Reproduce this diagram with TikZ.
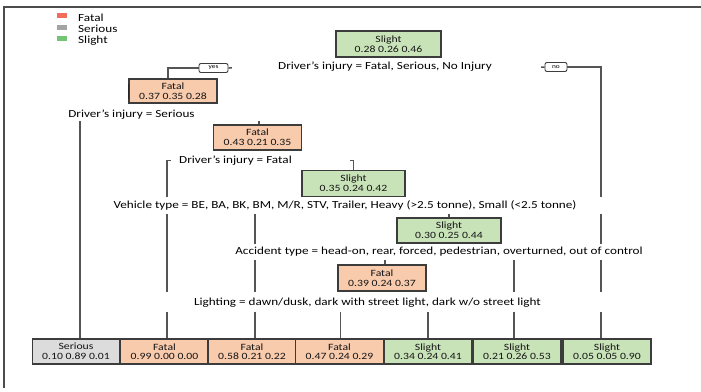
\documentclass[tikz,border=0pt]{standalone}
\usepackage{fontspec}
\newfontfamily\cf{Carlito}[FakeStretch=1.22]
\definecolor{fatalfill}{HTML}{F8CBAD}
\definecolor{slightfill}{HTML}{C9E3B9}
\definecolor{seriousfill}{HTML}{DCDCDC}
\definecolor{boxdraw}{HTML}{3C3C3C}
\definecolor{linecol}{HTML}{555555}
\definecolor{legred}{HTML}{F26D5E}
\definecolor{leggray}{HTML}{A3A3A3}
\definecolor{leggreen}{HTML}{74C476}
\pgfdeclarelayer{connl}
\pgfdeclarelayer{maskl}
\pgfsetlayers{connl,maskl,main}
\begin{document}
\begin{tikzpicture}[x=1pt,y=-1pt,
  treebox/.style={draw=boxdraw, line width=1.1pt, align=center, inner sep=0pt,
    minimum height=25pt, font=\cf\fontsize{9.6}{9.6}\selectfont, text=black!92},
  fatalbox/.style={treebox, fill=fatalfill, minimum width=88pt},
  slightbox/.style={treebox, fill=slightfill, minimum width=88pt},
  seriousbox/.style={treebox, fill=seriousfill, minimum width=87pt},
  splitlabel/.style={inner sep=0pt, font=\cf\fontsize{10.8}{13}\selectfont, text=black},
  legtext/.style={inner sep=0pt, anchor=base west, font=\cf\fontsize{10.8}{13}\selectfont, text=black},
  legsq/.style={inner sep=0pt, minimum width=10pt, minimum height=5pt},
  tag/.style={draw=boxdraw, line width=0.9pt, rounded corners=2pt, fill=white,
    minimum height=9pt, inner sep=0pt, font=\cf\fontsize{6}{6}\selectfont},
  conn/.style={draw=linecol, line width=1.5pt},
  masknode/.style={fill=white, draw=none, inner sep=0pt}
]
\useasboundingbox (0,0) rectangle (701,391);
% frame
\draw[draw=black!70, line width=1.8pt] (4,388) -- (4,6.7) -- (701,6.7);

% legend
\node[legsq, fill=legred] (lsqf) at (62,15.5) {};
\node[legsq, fill=leggray] (lsqs) at (62,27) {};
\node[legsq, fill=leggreen] (lsqg) at (62,38.5) {};
\node[legtext] (ltf) at (78,21) {Fatal};
\node[legtext] (lts) at (78,32.3) {Serious};
\node[legtext] (ltg) at (78,43.5) {Slight};

% internal nodes
\node[slightbox, minimum width=105pt, minimum height=26pt] (root) at (388.5,44) {Slight\\0.28 0.26 0.46};
\node[fatalbox, minimum height=24pt] (f37) at (173,91) {Fatal\\0.37 0.35 0.28};
\node[fatalbox] (f43) at (257.5,137.5) {Fatal\\0.43 0.21 0.35};
\node[slightbox, minimum width=103pt, minimum height=26pt] (s35) at (353.5,183.5) {Slight\\0.35 0.24 0.42};
\node[slightbox, minimum width=104pt] (s30) at (449,230.5) {Slight\\0.30 0.25 0.44};
\node[fatalbox, minimum height=26pt] (f39) at (382,278) {Fatal\\0.39 0.24 0.37};

% leaves
\node[seriousbox] (ser) at (76,351.5) {Serious\\0.10 0.89 0.01};
\node[fatalbox] (f99) at (164.5,351.5) {Fatal\\0.99 0.00 0.00};
\node[fatalbox] (f58) at (252,351.5) {Fatal\\0.58 0.21 0.22};
\node[fatalbox] (f47) at (339.5,351.5) {Fatal\\0.47 0.24 0.29};
\node[slightbox] (s34) at (428,351.5) {Slight\\0.34 0.24 0.41};
\node[slightbox] (s21) at (517,351.5) {Slight\\0.21 0.26 0.53};
\node[slightbox] (s05) at (607,351.5) {Slight\\0.05 0.05 0.90};

% split labels
\node[splitlabel] (L1) at (385,67) {Driver’s injury = Fatal, Serious, No Injury};
\node[splitlabel] (L2) at (131.5,114.5) {Driver’s injury = Serious};
\node[splitlabel] (L3) at (235.5,160.5) {Driver’s injury = Fatal};
\node[splitlabel] (L4) at (345,205.5) {Vehicle type = BE, BA, BK, BM, M/R, STV, Trailer, Heavy (>2.5 tonne), Small (<2.5 tonne)};
\node[splitlabel] (L5) at (439,252) {Accident type = head-on, rear, forced, pedestrian, overturned, out of control};
\node[splitlabel] (L6) at (367.5,302.5) {Lighting = dawn/dusk, dark with street light, dark w/o street light};

% yes / no tags
\node[tag, minimum width=29pt] (yes) at (213.5,68) {yes};
\node[tag, minimum width=22pt] (no) at (556,67) {no};

% thick mark on left of f37
\draw[draw=black!85, line width=1.6pt] ([yshift=-6pt]f37.north west) -- ([yshift=5pt]f37.south west);

\begin{pgfonlayer}{connl}
\draw[conn] (yes.east) -- (no.west);
\draw[conn] (yes.west) -| ([xshift=-5pt]f37.north);
\draw[conn] (no.east) -| ([xshift=-6pt]s05.north);
\draw[conn] ([xshift=4pt]ser.north) |- (L2.center) -| ([xshift=1.5pt]f43.north);
\draw[conn] ([xshift=2.5pt]f99.north) |- (L3.center) -| (s35.north);
\draw[conn] ([xshift=3pt]f58.north) |- (L4.center) -| (s30.north);
\draw[conn] ([xshift=3pt]f39.north) |- (L5.center) -| ([xshift=-3pt]s21.north);
\draw[conn] ([xshift=1pt]f47.north) |- (L6.center) -| (s34.north);
\end{pgfonlayer}

\begin{pgfonlayer}{maskl}
\node[masknode, minimum width=309pt, minimum height=15pt] (m1) at (386.5,67.5) {};
\node[masknode, minimum width=200pt, minimum height=14pt] (m2) at (162,114) {};
\node[masknode, minimum width=179pt, minimum height=15pt] (m3) at (260.5,160.5) {};
\node[masknode, minimum width=502pt, minimum height=17pt] (m4) at (356,205.5) {};
\node[masknode, minimum width=422pt, minimum height=16.5pt] (m5) at (439,251.75) {};
\node[masknode, minimum width=462pt, minimum height=20pt] (m6) at (381,302) {};
\end{pgfonlayer}
\end{tikzpicture}
\end{document}
